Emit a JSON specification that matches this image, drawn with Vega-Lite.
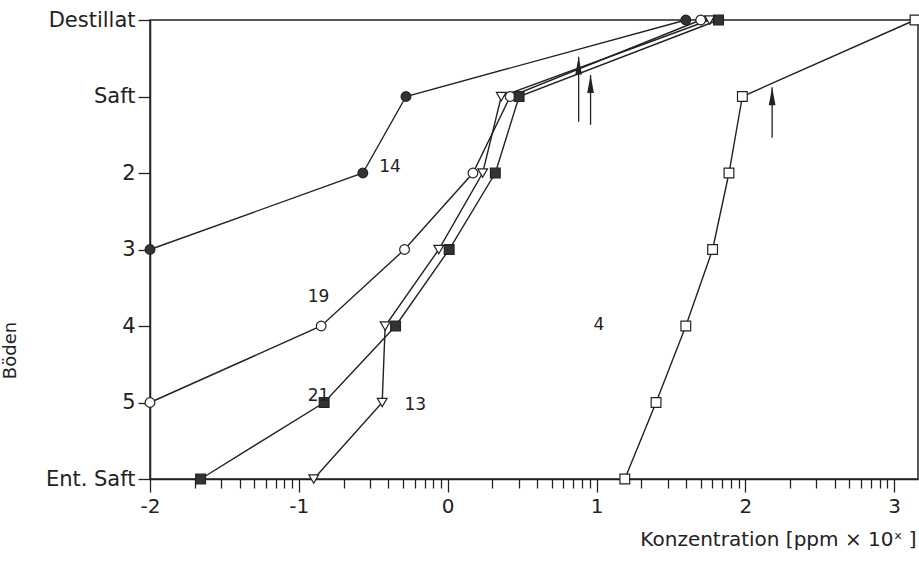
{
  "$schema": "https://vega.github.io/schema/vega-lite/v6.json",
  "width": 768,
  "height": 459,
  "autosize": "none",
  "padding": {"left": 150, "top": 20, "right": 1, "bottom": 83},
  "background": "white",
  "config": {
    "view": {"stroke": "#222", "strokeWidth": 1.5},
    "font": "DejaVu Sans"
  },
  "datasets": {
    "pts": [
      {"s": "14", "x": 1.60, "y": 0}, {"s": "14", "x": -0.28, "y": 1}, {"s": "14", "x": -0.57, "y": 2}, {"s": "14", "x": -2.0, "y": 3},
      {"s": "19", "x": 1.70, "y": 0}, {"s": "19", "x": 0.42, "y": 1}, {"s": "19", "x": 0.17, "y": 2}, {"s": "19", "x": -0.29, "y": 3}, {"s": "19", "x": -0.85, "y": 4}, {"s": "19", "x": -2.0, "y": 5},
      {"s": "13", "x": 1.76, "y": 0}, {"s": "13", "x": 0.36, "y": 1}, {"s": "13", "x": 0.235, "y": 2}, {"s": "13", "x": -0.06, "y": 3}, {"s": "13", "x": -0.42, "y": 4}, {"s": "13", "x": -0.44, "y": 5}, {"s": "13", "x": -0.90, "y": 6},
      {"s": "21", "x": 1.82, "y": 0}, {"s": "21", "x": 0.48, "y": 1}, {"s": "21", "x": 0.32, "y": 2}, {"s": "21", "x": 0.01, "y": 3}, {"s": "21", "x": -0.35, "y": 4}, {"s": "21", "x": -0.83, "y": 5}, {"s": "21", "x": -1.66, "y": 6},
      {"s": "4", "x": 3.14, "y": 0}, {"s": "4", "x": 1.98, "y": 1}, {"s": "4", "x": 1.89, "y": 2}, {"s": "4", "x": 1.78, "y": 3}, {"s": "4", "x": 1.60, "y": 4}, {"s": "4", "x": 1.40, "y": 5}, {"s": "4", "x": 1.19, "y": 6}
    ],
    "arrows": [
      {"x": 0.88, "y": 1.33, "y2": 0.48},
      {"x": 0.96, "y": 1.37, "y2": 0.72},
      {"x": 2.18, "y": 1.54, "y2": 0.88}
    ],
    "labels": [
      {"t": "14", "x": -0.46, "y": 1.92},
      {"t": "19", "x": -0.94, "y": 3.62},
      {"t": "21", "x": -0.94, "y": 4.92},
      {"t": "13", "x": -0.29, "y": 5.03},
      {"t": "4", "x": 0.98, "y": 3.99}
    ]
  },
  "encoding": {
    "x": {
      "field": "x", "type": "quantitative",
      "scale": {"domain": [-2, 3.16], "nice": false, "zero": false},
      "axis": {
        "values": [-2, -1.699, -1.523, -1.398, -1.301, -1.222, -1.155, -1.097, -1.046,
                   -1, -0.699, -0.523, -0.398, -0.301, -0.222, -0.155, -0.097, -0.046,
                   0, 0.301, 0.477, 0.602, 0.699, 0.778, 0.845, 0.903, 0.954,
                   1, 1.301, 1.477, 1.602, 1.699, 1.778, 1.845, 1.903, 1.954,
                   2, 2.301, 2.477, 2.602, 2.699, 2.778, 2.845, 2.903, 2.954, 3],
        "labelExpr": "datum.value == round(datum.value) ? '' + datum.value : ''",
        "labelOverlap": false,
        "labelFlush": false,
        "labelFontSize": 20,
        "labelColor": "#222",
        "labelPadding": 4,
        "grid": false,
        "domainColor": "#222",
        "domainWidth": 1.5,
        "tickColor": "#222",
        "tickWidth": 1.3,
        "tickSize": {"condition": {"test": "datum.value == round(datum.value)", "value": 13}, "value": 9},
        "title": "Konzentration  [ppm × 10ˣ ]",
        "titleFontSize": 20,
        "titleFontWeight": "normal",
        "titleColor": "#222",
        "titleAnchor": "end",
        "titleAlign": "right",
        "titleBaseline": "middle",
        "titleX": 766,
        "titleY": 60
      }
    },
    "y": {
      "field": "y", "type": "quantitative",
      "scale": {"domain": [0, 6], "reverse": true, "nice": false, "zero": false},
      "axis": {
        "values": [0, 1, 2, 3, 4, 5, 6],
        "labelExpr": "['Destillat','Saft','2','3','4','5','Ent. Saft'][datum.value]",
        "labelFontSize": 21,
        "labelColor": "#222",
        "labelPadding": 3,
        "labelOverlap": false,
        "grid": false,
        "domainColor": "#222",
        "domainWidth": 1.5,
        "tickColor": "#222",
        "tickWidth": 1.3,
        "tickSize": 12,
        "title": "Böden",
        "titleFontSize": 18,
        "titleFontWeight": "normal",
        "titleColor": "#222",
        "titleAngle": -90,
        "titleAlign": "center",
        "titleBaseline": "middle",
        "titleX": -140,
        "titleY": 330
      }
    }
  },
  "layer": [
    {
      "data": {"name": "pts"},
      "mark": {"type": "line", "color": "#222", "strokeWidth": 1.4},
      "encoding": {
        "detail": {"field": "s"},
        "order": {"field": "y", "type": "quantitative"}
      }
    },
    {
      "data": {"name": "pts"},
      "mark": {"type": "point", "filled": true, "size": 95, "stroke": "#222", "strokeWidth": 1.2, "opacity": 1},
      "encoding": {
        "shape": {"field": "s", "type": "nominal", "scale": {"domain": ["14", "19", "21", "13", "4"], "range": ["circle", "circle", "square", "triangle-down", "square"]}, "legend": null},
        "fill": {"field": "s", "type": "nominal", "scale": {"domain": ["14", "19", "21", "13", "4"], "range": ["#333", "white", "#333", "white", "white"]}, "legend": null}
      }
    },
    {
      "data": {"name": "arrows"},
      "mark": {"type": "rule", "color": "#222", "strokeWidth": 1.3},
      "encoding": {"y2": {"field": "y2"}}
    },
    {
      "data": {"name": "arrows"},
      "mark": {"type": "point", "shape": "M0,0L0.3,1.6L-0.3,1.6Z", "size": 500, "filled": true, "color": "#222", "opacity": 1},
      "encoding": {"y": {"field": "y2", "type": "quantitative"}}
    },
    {
      "data": {"name": "labels"},
      "mark": {"type": "text", "align": "left", "baseline": "middle", "fontSize": 17, "color": "#222"},
      "encoding": {"text": {"field": "t"}}
    }
  ]
}
